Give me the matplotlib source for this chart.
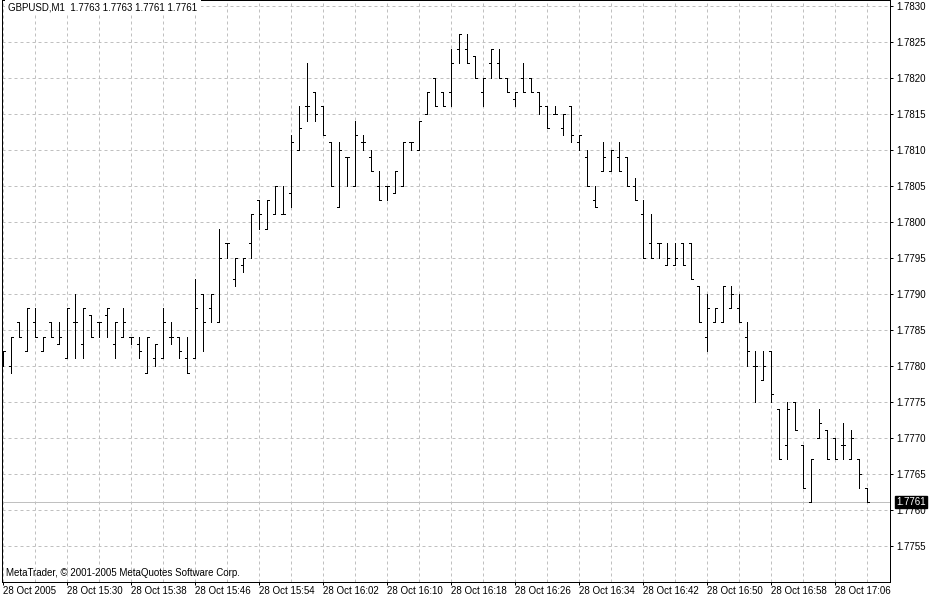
import numpy as np
import matplotlib
matplotlib.use("Agg")
import matplotlib.pyplot as plt
import matplotlib.transforms as mtransforms

plt.rcParams['font.family'] = ['Liberation Sans', 'DejaVu Sans']

# GBPUSD M1, 28 Oct 2005, 15:22 .. 17:10 (109 bars)
opens = [1.7781, 1.7780, 1.7786, 1.7782, 1.7786, 1.7782, 1.7786, 1.7783, 1.7781, 1.7786,
         1.7783, 1.7787, 1.7786, 1.7787, 1.7783, 1.7784, 1.7784, 1.7783, 1.7779, 1.7781,
         1.7781, 1.7784, 1.7784, 1.7781, 1.7781, 1.7790, 1.7788, 1.7786, 1.7797, 1.7792,
         1.7794, 1.7797, 1.7803, 1.7799, 1.7801, 1.7801, 1.7804, 1.7810, 1.7816, 1.7818,
         1.7816, 1.7811, 1.7802, 1.7809, 1.7805, 1.7811, 1.7809, 1.7805, 1.7805, 1.7804,
         1.7805, 1.7811, 1.7810, 1.7815, 1.7820, 1.7818, 1.7818, 1.7824, 1.7824, 1.7823,
         1.7818, 1.7822, 1.7822, 1.7820, 1.7817, 1.7820, 1.7820, 1.7818, 1.7816, 1.7815,
         1.7813, 1.7816, 1.7811, 1.7809, 1.7803, 1.7807, 1.7807, 1.7809, 1.7809, 1.7805,
         1.7801, 1.7797, 1.7797, 1.7794, 1.7794, 1.7797, 1.7797, 1.7791, 1.7784, 1.7786,
         1.7786, 1.7788, 1.7788, 1.7784, 1.7780, 1.7778, 1.7782, 1.7774, 1.7769, 1.7775,
         1.7769, 1.7761, 1.7770, 1.7771, 1.7770, 1.7769, 1.7767, 1.7767, 1.7763]
highs = [1.7782, 1.7784, 1.7786, 1.7788, 1.7788, 1.7784, 1.7786, 1.7786, 1.7788, 1.7790,
         1.7788, 1.7787, 1.7786, 1.7788, 1.7786, 1.7788, 1.7784, 1.7784, 1.7784, 1.7783,
         1.7788, 1.7786, 1.7784, 1.7784, 1.7792, 1.7790, 1.7790, 1.7799, 1.7797, 1.7795,
         1.7795, 1.7801, 1.7803, 1.7803, 1.7805, 1.7805, 1.7812, 1.7816, 1.7822, 1.7818,
         1.7816, 1.7811, 1.7811, 1.7809, 1.7814, 1.7812, 1.7810, 1.7807, 1.7805, 1.7807,
         1.7811, 1.7811, 1.7814, 1.7818, 1.7820, 1.7818, 1.7824, 1.7826, 1.7826, 1.7823,
         1.7820, 1.7824, 1.7824, 1.7820, 1.7818, 1.7822, 1.7820, 1.7818, 1.7816, 1.7816,
         1.7815, 1.7816, 1.7812, 1.7810, 1.7805, 1.7811, 1.7810, 1.7811, 1.7809, 1.7806,
         1.7803, 1.7801, 1.7797, 1.7797, 1.7797, 1.7797, 1.7797, 1.7791, 1.7790, 1.7788,
         1.7791, 1.7791, 1.7790, 1.7786, 1.7782, 1.7782, 1.7782, 1.7774, 1.7775, 1.7775,
         1.7769, 1.7767, 1.7774, 1.7771, 1.7770, 1.7772, 1.7771, 1.7767, 1.7763]
lows = [1.7780, 1.7779, 1.7784, 1.7782, 1.7784, 1.7782, 1.7784, 1.7783, 1.7781, 1.7781,
        1.7781, 1.7784, 1.7784, 1.7784, 1.7781, 1.7784, 1.7783, 1.7781, 1.7779, 1.7780,
        1.7781, 1.7783, 1.7781, 1.7779, 1.7781, 1.7782, 1.7786, 1.7786, 1.7795, 1.7791,
        1.7793, 1.7795, 1.7799, 1.7799, 1.7801, 1.7801, 1.7802, 1.7810, 1.7814, 1.7814,
        1.7812, 1.7805, 1.7802, 1.7805, 1.7805, 1.7810, 1.7807, 1.7803, 1.7803, 1.7804,
        1.7805, 1.7810, 1.7810, 1.7815, 1.7816, 1.7816, 1.7816, 1.7822, 1.7822, 1.7820,
        1.7816, 1.7820, 1.7820, 1.7818, 1.7816, 1.7818, 1.7818, 1.7815, 1.7813, 1.7815,
        1.7812, 1.7811, 1.7810, 1.7805, 1.7802, 1.7807, 1.7807, 1.7807, 1.7805, 1.7803,
        1.7795, 1.7795, 1.7795, 1.7794, 1.7794, 1.7794, 1.7792, 1.7786, 1.7782, 1.7786,
        1.7786, 1.7788, 1.7786, 1.7780, 1.7775, 1.7778, 1.7775, 1.7767, 1.7767, 1.7771,
        1.7763, 1.7761, 1.7770, 1.7767, 1.7767, 1.7767, 1.7767, 1.7763, 1.7761]
closes = [1.7782, 1.7784, 1.7784, 1.7788, 1.7784, 1.7784, 1.7784, 1.7784, 1.7788, 1.7786,
          1.7788, 1.7784, 1.7786, 1.7788, 1.7786, 1.7786, 1.7784, 1.7782, 1.7784, 1.7783,
          1.7786, 1.7784, 1.7782, 1.7779, 1.7788, 1.7786, 1.7790, 1.7795, 1.7797, 1.7795,
          1.7795, 1.7801, 1.7801, 1.7803, 1.7805, 1.7801, 1.7811, 1.7813, 1.7816, 1.7815,
          1.7812, 1.7805, 1.7810, 1.7809, 1.7812, 1.7811, 1.7807, 1.7803, 1.7805, 1.7807,
          1.7811, 1.7811, 1.7814, 1.7818, 1.7816, 1.7816, 1.7822, 1.7826, 1.7822, 1.7820,
          1.7820, 1.7824, 1.7820, 1.7818, 1.7818, 1.7818, 1.7818, 1.7816, 1.7813, 1.7815,
          1.7815, 1.7812, 1.7812, 1.7805, 1.7802, 1.7809, 1.7810, 1.7807, 1.7805, 1.7803,
          1.7795, 1.7795, 1.7797, 1.7795, 1.7795, 1.7794, 1.7792, 1.7786, 1.7788, 1.7788,
          1.7791, 1.7790, 1.7786, 1.7782, 1.7780, 1.7780, 1.7776, 1.7767, 1.7774, 1.7771,
          1.7763, 1.7767, 1.7772, 1.7767, 1.7767, 1.7769, 1.7770, 1.7765, 1.7761]

time_labels = ["28 Oct 2005", "28 Oct 15:30", "28 Oct 15:38", "28 Oct 15:46",
               "28 Oct 15:54", "28 Oct 16:02", "28 Oct 16:10", "28 Oct 16:18",
               "28 Oct 16:26", "28 Oct 16:34", "28 Oct 16:42", "28 Oct 16:50",
               "28 Oct 16:58", "28 Oct 17:06"]
price_levels = [1.7755, 1.7760, 1.7765, 1.7770, 1.7775, 1.7780, 1.7785, 1.7790,
                1.7795, 1.7800, 1.7805, 1.7810, 1.7815, 1.7820, 1.7825, 1.7830]
titel = "GBPUSD,M1  1.7763 1.7763 1.7761 1.7761"
kopie = "MetaTrader, \u00a9 2001-2005 MetaQuotes Software Corp."

x = np.arange(len(opens))
px = 0.72  # 1 pixel in points

fig = plt.figure(figsize=(9.3, 6), dpi=100)
ax = fig.add_axes([2 / 930, 18 / 600, 888 / 930, 582 / 600])
ax.set_xlim(-0.125, 110.875)
ax.set_ylim(1.7749931, 1.7830764)

# grid
ax.set_xticks(x[::8])
ax.set_xticklabels(time_labels)
ax.set_xticks(x[::4], minor=True)
ax.set_yticks(price_levels)
ax.set_yticklabels([f"{p:.4f}" for p in price_levels])
ax.grid(True, which='both', color='#C0C0C0', linestyle=(0, (3, 3)), linewidth=px)
ax.set_axisbelow(True)

# bars
ax.vlines(x, lows, highs, colors='black', linewidth=px, antialiased=False, zorder=3)
ax.hlines(opens, x - 0.3, x, colors='black', linewidth=px, antialiased=False, zorder=3)
ax.hlines(closes, x, x + 0.3, colors='black', linewidth=px, antialiased=False, zorder=3)

# current price line and label
ax.axhline(closes[-1], color='#C0C0C0', linewidth=px, zorder=2)
trans = mtransforms.blended_transform_factory(ax.transAxes, ax.transData)
ax.text(1.0 + 6 / 888, closes[-1], f"{closes[-1]:.4f}", transform=trans, ha='left', va='center',
        color='white', fontsize=7, clip_on=False, zorder=10,
        bbox=dict(boxstyle='square,pad=0.12', fc='black', ec='black'))

# axes look
ax.yaxis.tick_right()
ax.tick_params(axis='y', which='major', direction='out', length=3 * px, width=px,
               labelsize=7, pad=2.5)
ax.tick_params(axis='x', which='major', direction='out', length=3 * px, width=px,
               labelsize=7, pad=1)
ax.tick_params(axis='x', which='minor', length=0)
for lbl in ax.get_xticklabels():
    lbl.set_horizontalalignment('left')
for s in ax.spines.values():
    s.set_linewidth(px)

ax.text(6 / 888, 1 - 7 / 582, titel, transform=ax.transAxes, ha='left', va='center', fontsize=7,
        zorder=5, bbox=dict(boxstyle='square,pad=0.35', fc='white', ec='none'))
ax.text(4 / 888, 9 / 582, kopie, transform=ax.transAxes, ha='left', va='center', fontsize=7,
        zorder=5)

fig.savefig("out.png", dpi=100)
